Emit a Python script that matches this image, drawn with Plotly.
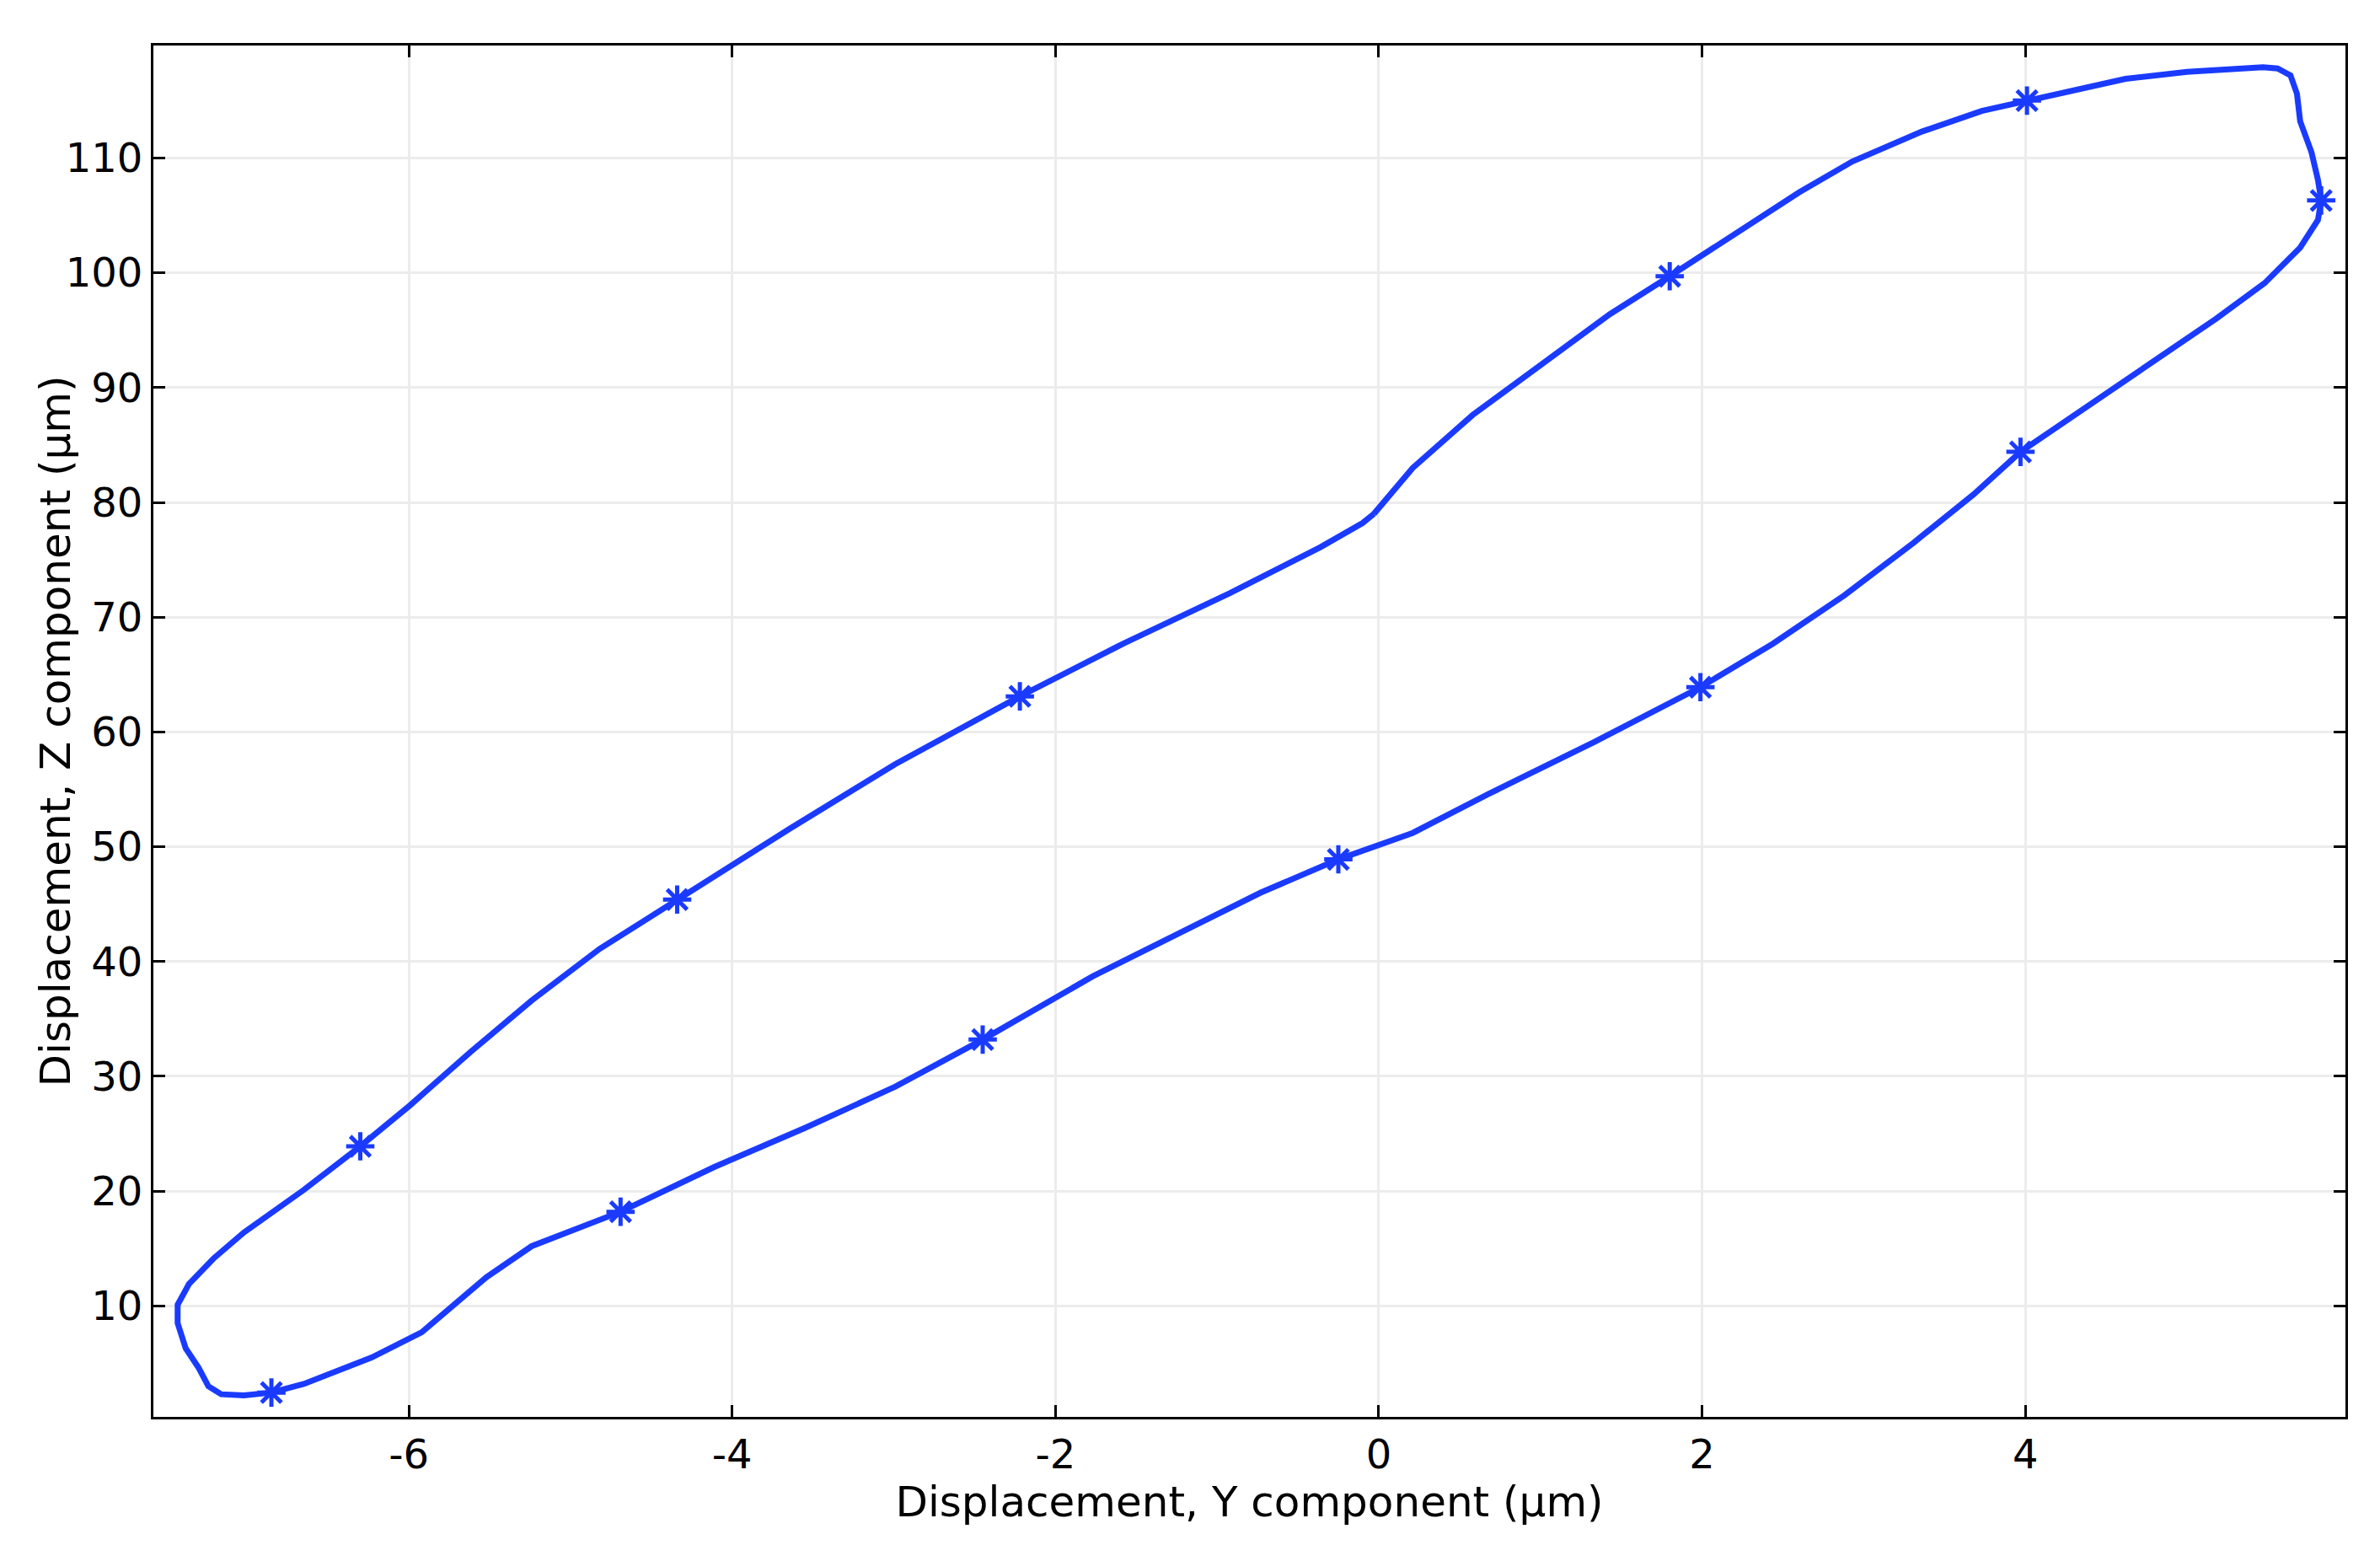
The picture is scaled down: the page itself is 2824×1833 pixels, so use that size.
import plotly.graph_objects as go

# trajectory of the displacement (Y, Z components), in µm
disp_y = [-0.03, 0.21, 0.58, 1.05, 1.43, 1.80, 2.27, 2.60, 2.93, 3.36, 3.73, 4.01,
          4.34, 4.62, 5.00, 5.28, 5.47, 5.56, 5.64, 5.68, 5.70, 5.77, 5.81, 5.83,
          5.81, 5.70, 5.48, 5.18, 4.81, 4.41, 3.97, 3.68, 3.31, 2.88, 2.44, 1.99,
          1.33, 0.68, 0.21, -0.25, -0.73, -1.20, -1.77, -2.45, -2.99, -3.55, -4.11,
          -4.69, -5.24, -5.52, -5.66, -5.92, -6.23, -6.46, -6.65, -6.85, -7.02,
          -7.16, -7.24, -7.30, -7.38, -7.43, -7.43, -7.36, -7.21, -7.02, -6.65,
          -6.30, -5.99, -5.62, -5.24, -4.82, -4.34, -3.64, -2.99, -2.22, -1.58,
          -0.92, -0.36, -0.10, -0.03]
disp_z = [79.0, 83.0, 87.6, 92.5, 96.4, 99.7, 103.9, 107.0, 109.7, 112.3, 114.1, 115.0,
          116.1, 116.9, 117.5, 117.8, 117.9, 117.8, 117.2, 115.6, 113.2, 110.5, 108.1, 106.3,
          104.6, 102.2, 99.1, 96.0, 92.5, 88.7, 84.4, 80.7, 76.5, 71.9, 67.7, 63.9,
          59.1, 54.6, 51.2, 48.9, 46.0, 42.7, 38.7, 33.2, 29.1, 25.5, 22.1,
          18.2, 15.2, 12.5, 10.8, 7.7, 5.5, 4.2, 3.2, 2.45, 2.2,
          2.3, 3.0, 4.6, 6.3, 8.5, 10.1, 11.9, 14.1, 16.4, 20.1,
          23.9, 27.5, 32.1, 36.6, 41.1, 45.4, 51.6, 57.2, 63.1, 67.7,
          72.1, 76.1, 78.2, 79.0]

# sampled points shown with markers
mark_y = [1.80, 4.01, 5.83, 3.97, 1.99, -0.25, -2.45, -4.69, -6.85, -6.30, -4.34, -2.22]
mark_z = [99.7, 115.0, 106.3, 84.4, 63.9, 48.9, 33.2, 18.2, 2.45, 23.9, 45.4, 63.1]

x_ticks = [-6, -4, -2, 0, 2, 4]
x_labels = ['-6', '-4', '-2', '0', '2', '4']
y_ticks = [10, 20, 30, 40, 50, 60, 70, 80, 90, 100, 110]

blue = '#1a3bff'

fig = go.Figure()
fig.add_trace(go.Scatter(x=disp_y, y=disp_z, mode='lines',
                         line=dict(color=blue, width=7), showlegend=False))
fig.add_trace(go.Scatter(x=mark_y, y=mark_z, mode='markers',
                         marker=dict(symbol='asterisk-open', size=28, color=blue,
                                     line=dict(color=blue, width=5)),
                         showlegend=False))

axis_style = dict(showline=True, linecolor='black', linewidth=3, mirror='ticks',
                  ticks='inside', ticklen=14, tickwidth=2.5, tickcolor='black',
                  showgrid=True, gridcolor='#ececec', gridwidth=2.5, zeroline=False,
                  tickfont=dict(size=48, color='black'))

fig.update_xaxes(range=[-7.58, 5.98], tickvals=x_ticks, ticktext=x_labels,
                 title_text='Displacement, Y component (µm)', title_standoff=2,
                 title_font=dict(size=50, color='black'), **axis_style)
fig.update_yaxes(range=[0.33, 119.8], tickvals=y_ticks, **axis_style)

# y title placed by hand, closer to the tick labels than plotly allows
fig.add_annotation(text='Displacement, Z component (µm)', textangle=-90,
                   xref='paper', yref='paper', x=0, y=0.5, xshift=-117,
                   xanchor='center', yanchor='middle', showarrow=False,
                   font=dict(size=50, color='black'))

# the page body adds an 8px margin, so the figure is sized to fit the window
fig.update_layout(width=2808, height=1817,
                  margin=dict(l=174, r=33, t=46, b=144),
                  plot_bgcolor='white', paper_bgcolor='white',
                  font=dict(family='DejaVu Sans', color='black'))

fig.write_html("out.html")
